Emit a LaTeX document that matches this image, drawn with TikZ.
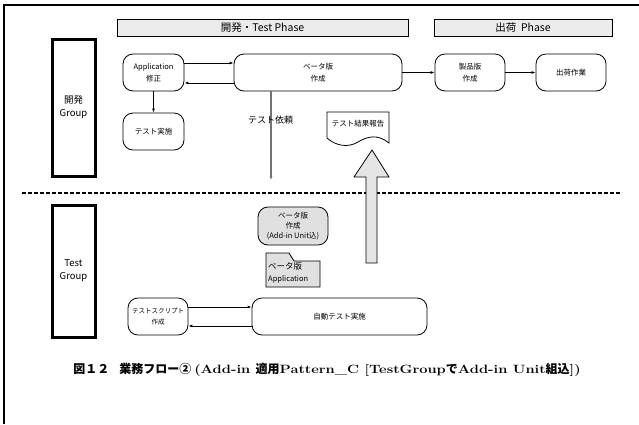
\documentclass[tikz,border=0pt]{standalone}
\usepackage{fontspec}
\usepackage{graphicx}
\setmainfont{Noto Sans CJK JP}
\newfontfamily\capserif{Latin Modern Roman}
\usetikzlibrary{arrows.meta}
\newcommand\cs[1]{\scalebox{1.22}[1]{\capserif\bfseries #1}}
\begin{document}
\begin{tikzpicture}[x=1pt,y=-1pt,
  box/.style={draw,rounded corners=10pt,line width=0.8pt,font=\fontsize{7.5}{12}\selectfont,align=center,inner sep=0pt},
  phasebar/.style={draw,fill=black!8,line width=0.8pt,inner sep=0pt,font=\fontsize{10.5}{12}\selectfont},
  grp/.style={draw,line width=3pt,inner sep=0pt,align=center,font=\fontsize{9.5}{13}\selectfont},
  arr/.style={-{Latex[length=4pt,width=3pt]},line width=0.8pt},
  graybox/.style={box,fill=black!12}]
\useasboundingbox (0,0) rectangle (639,424);
% frame
\draw[line width=1.2pt] (4,424) -- (4,5) -- (639,5);
% phases
\node[phasebar,minimum width=291pt,minimum height=17pt] (ph1) at (262.5,27.5) {開発・Test Phase};
\node[phasebar,minimum width=178pt,minimum height=17pt] (ph2) at (523,27.5) {出荷\ \ Phase};
% groups
\node[grp,minimum width=43pt,minimum height=137pt] (g1) at (73.5,107.5) {開発\\Group};
\node[grp,minimum width=43pt,minimum height=132pt] (g2) at (73.5,271) {Test\\Group};
% dashed divider
\coordinate (dl) at (22,193);
\coordinate (dr) at (622,193);
\draw[line width=1.2pt,dash pattern=on 4pt off 2pt] (dl) -- (dr);
% dev nodes
\node[box,minimum width=61pt,minimum height=37pt] (app) at (153.5,72.5) {Application\\修正};
\node[box,minimum width=61pt,minimum height=37pt] (t1) at (153.5,131.5) {テスト実施};
\node[box,minimum width=168pt,minimum height=37pt] (beta) at (318,72.5) {ベータ版\\作成};
\node[box,minimum width=70pt,minimum height=37pt] (prod) at (470,72.5) {製品版\\作成};
\node[box,minimum width=70pt,minimum height=37pt] (ship) at (571,72.5) {出荷作業};
\draw[arr] (app.east|-0,63) -- (beta.west|-0,63);
\draw[arr] (beta.west|-0,83) -- (app.east|-0,83);
\draw[arr] (app) -- (t1);
\draw[arr] (beta) -- (prod);
\draw[arr] (prod) -- (ship);
% test request
\coordinate (req) at (271,180);
\draw[-{Latex[length=4pt,width=3pt]},line width=1.4pt,black!55] (req|-beta.south) -- (req);
\node[font=\fontsize{9}{10}\selectfont,inner sep=0pt] (reqlbl) at (270.5,120) {テスト依頼};
% document
\draw[line width=0.8pt,fill=white] (327,112) -- (389,112) -- (389,143)
  .. controls (378,134) and (368,136) .. (358,142)
  .. controls (348,148) and (336,146) .. (327,138) -- cycle;
\node[font=\fontsize{7.5}{9}\selectfont,inner sep=0pt] (doc) at (358,124) {テスト結果報告};
% big arrow
\draw[line width=0.8pt,fill=black!10] (366,263) -- (366,177) -- (354,177) -- (372,150) -- (389,177) -- (377,177) -- (377,263) -- cycle;
% test group nodes
\node[graybox,minimum width=70pt,minimum height=38pt,font=\fontsize{7.5}{10}\selectfont] (badd) at (293,226) {ベータ版\\作成\\(Add-in Unit込)};
\draw[line width=0.8pt,fill=black!12] (266,287) -- (266,253) -- (289,253) -- (294,261) -- (320,261) -- (320,287) -- cycle;
\node[anchor=north west,inner sep=0pt,align=left,font=\fontsize{7.5}{12}\selectfont] (fold) at (268,262) {{\fontsize{8.5}{10}\selectfont ベータ版}\\Application};
\node[box,minimum width=60pt,minimum height=37pt,font=\fontsize{6.5}{11}\selectfont] (scr) at (158,316.5) {テストスクリプト\\作成};
\node[box,minimum width=175pt,minimum height=37pt] (auto) at (339.5,316.5) {自動テスト実施};
\draw[arr] (scr.east|-0,307) -- (auto.west|-0,307);
\draw[arr] (auto.west|-0,326) -- (scr.east|-0,326);
% caption
\node[font=\fontsize{12}{14}\selectfont\bfseries,inner sep=0pt] (cap) at (327,370) {図１２\hspace{10pt}業務フロー②\hspace{3pt}\cs{(Add-in }適用\cs{Pattern\_C [TestGroup}で\cs{Add-in Unit}組込\cs{])}};
\end{tikzpicture}
\end{document}
